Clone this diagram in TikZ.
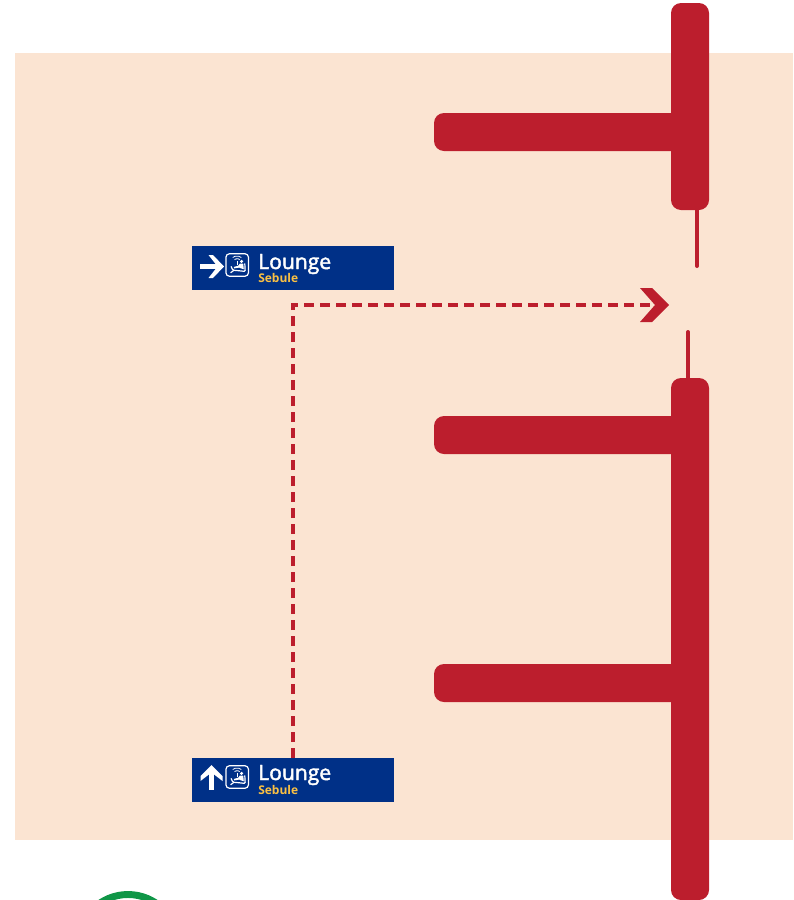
\documentclass[tikz,border=0pt]{standalone}
\usepackage{fontspec}
\setmainfont{Open Sans}
\newfontfamily\signfont[FakeBold=2]{Open Sans}
\definecolor{peach}{HTML}{FBE4D2}
\definecolor{bar}{HTML}{BC1E2D}
\definecolor{navy}{HTML}{003087}
\definecolor{amber}{HTML}{FAC043}
\definecolor{ringgreen}{HTML}{0F9647}
\tikzset{
  signbox/.style={fill=navy,draw=none,minimum width=202*0.75pt,minimum height=44*0.75pt,inner sep=0pt,outer sep=0pt},
  wall/.style={fill=bar,draw=none,rounded corners=7.5pt},
  thinwall/.style={draw=bar,line width=3pt,line cap=round},
  route/.style={draw=bar,line width=2.35pt,dash pattern=on 7.5pt off 4.5pt},
  signarrow/.style={draw=white,line width=4.4pt},
  main/.style={text=white,font=\signfont\fontsize{15.8}{16}\selectfont,inner sep=0pt,anchor=base west},
  sub/.style={text=amber,font=\bfseries\fontsize{9}{9}\selectfont,inner sep=0pt,anchor=base west},
  iconbox/.style={draw=white,line width=0.9pt,rounded corners=2.6pt,minimum size=22.5*0.75pt,inner sep=0pt}
}
\newcommand{\loungeicon}[2]{%
  \begin{scope}[shift={(#1,#2)}]
    \draw[white,line width=0.6pt] (-4.5,-7.5) arc[start angle=200,end angle=340,x radius=4.6,y radius=2.2];
    \draw[white,line width=0.6pt] (-2.6,-5.4) arc[start angle=200,end angle=340,x radius=2.7,y radius=1.3];
    \draw[white,line width=0.6pt] (-0.3,-4) -- (-0.3,0);
    \fill[white] (4.4,-3.6) circle (1.7);
    \fill[white] (2.6,-1.4) -- (6,-1.4) -- (6.6,4.2) -- (4.4,3.6) -- (2,2.6) -- (-3,3.4) -- (-3.4,2) -- (1.2,0.6) -- cycle;
    \draw[white,line width=0.9pt,line cap=round,rounded corners=0.8pt] (-6,1.6) -- (-4.4,5.2) -- (0.4,5.6) -- (8,6.4) -- (7.6,-1.2);
    \draw[white,line width=0.9pt,line cap=round] (-6.4,7.6) -- (-3.4,5.4);
  \end{scope}}
\begin{document}
\begin{tikzpicture}[x=0.75pt,y=-0.75pt]
\useasboundingbox (0,0) rectangle (793,900);
\fill[peach] (15,53) rectangle (793,840);
\begin{scope}
  \clip (0,0) rectangle (793,900);
  \draw[ringgreen,line width=5.2pt] (128,944.5) circle (50);
\end{scope}
% walls
\fill[wall] (434,113) rectangle (700,151);
\fill[wall] (434,416) rectangle (700,454);
\fill[wall] (434,664) rectangle (700,702);
\fill[wall] (671,3) rectangle (709,210);
\fill[wall] (671,378) rectangle (709,900);
\coordinate (w1a) at (697,205);
\coordinate (w1b) at (697,266);
\coordinate (w2a) at (688,332);
\coordinate (w2b) at (688,385);
\draw[thinwall] (w1a) -- (w1b);
\draw[thinwall] (w2a) -- (w2b);
% signs
\node[signbox,anchor=north west] (signtop) at (192,246) {};
\node[signbox,anchor=north west] (signbot) at (192,758) {};
% route
\coordinate (corner) at (293,305);
\coordinate (routeend) at (657,305);
\coordinate (routestart) at (293,758);
\draw[route] (routestart) -- (corner) -- (routeend);
\fill[bar] (640,288) -- (652,288) -- (669,305) -- (652,322) -- (640,322) -- (655,305) -- cycle;
% top sign
\draw[signarrow] (200,266.5) -- (218,266.5);
\fill[white] (208.5,255) -- (213,255) -- (224,266.5) -- (213,278) -- (208.5,278) -- (216,268.5) -- (216,264.5) -- cycle;
\node[iconbox] (icontop) at (237.2,265) {};
\loungeicon{237.2}{265}
\node[main] (l1) at (258,269) {Lounge};
\node[sub] (s1) at (258,282) {Sebule};
% bottom sign
\draw[signarrow] (211.5,789.5) -- (211.5,772);
\fill[white] (211.5,765) -- (222.5,776) -- (222.5,781) -- (213.5,774) -- (209.5,774) -- (200.5,781) -- (200.5,776) -- cycle;
\node[iconbox] (iconbot) at (237.2,777) {};
\loungeicon{237.2}{777}
\node[main] (l2) at (258,780) {Lounge};
\node[sub] (s2) at (258,794) {Sebule};
\end{tikzpicture}
\end{document}
